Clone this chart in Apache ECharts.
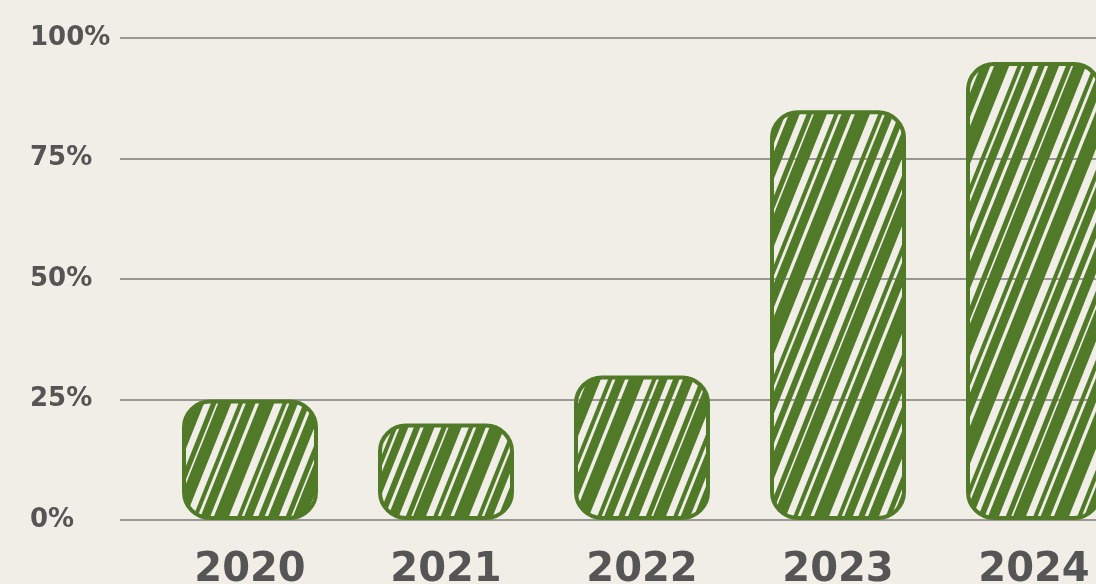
<!DOCTYPE html>
<html>
<head>
<meta charset="utf-8">
<script src="https://cdn.jsdelivr.net/npm/echarts@6/dist/echarts.min.js"></script>
<style>
html,body{margin:0;padding:0;background:#f1eee7;}
#c{width:1096px;height:584px;}
</style>
</head>
<body>
<div id="c"></div>
<script>
const categories = ['2020', '2021', '2022', '2023', '2024'];
const values = [25, 20, 30, 85, 95];
const yTicks = [0, 25, 50, 75, 100];

const GREEN = '#507a28';

function makeHatch() {
  const W = 120, H = 300;
  const cv = document.createElement('canvas');
  cv.width = W; cv.height = H;
  const ctx = cv.getContext('2d');
  ctx.strokeStyle = GREEN;
  ctx.lineCap = 'butt';
  const strokes = [[0, 10], [15, 5], [26, 12], [42, 4], [52, 9], [68, 14], [86, 4], [95, 8], [108, 6]];
  for (let rep = -1; rep <= 1; rep++) {
    for (const [off, w] of strokes) {
      const x0 = off + rep * W;
      ctx.lineWidth = w;
      ctx.beginPath();
      ctx.moveTo(x0 - W * 0.1, H * 1.1);
      ctx.lineTo(x0 + W * 1.1, -H * 0.1);
      ctx.stroke();
    }
  }
  return cv;
}

const FONT = '"DejaVu Sans", Lato, sans-serif';
const chart = echarts.init(document.getElementById('c'), null, {renderer: 'canvas'});
const option = {
  backgroundColor: '#f1eee7',
  animation: false,
  grid: [
    {left: 120, right: 0, top: 38, bottom: 64, outerBoundsMode: 'none', containLabel: false},
    {left: 152, width: 980, top: 38, bottom: 64, outerBoundsMode: 'none', containLabel: false}
  ],
  xAxis: [
    {gridIndex: 0, type: 'category', data: categories, show: false},
    {
      gridIndex: 1, type: 'category', data: categories,
      axisLine: {show: false}, axisTick: {show: false},
      axisLabel: {
        color: '#555555', fontSize: 40, fontWeight: 'bold',
        fontFamily: FONT, margin: 31
      }
    }
  ],
  yAxis: [
    {
      gridIndex: 0, type: 'value', min: 0, max: 100, interval: 25,
      axisLine: {show: false}, axisTick: {show: false},
      axisLabel: {
        formatter: v => yTicks.includes(v) ? v + '%' : '',
        align: 'left', margin: 90, color: '#555555', fontSize: 26, fontWeight: 'bold',
        fontFamily: FONT
      },
      splitLine: {lineStyle: {color: '#9a9893', width: 2}}
    },
    {gridIndex: 1, type: 'value', min: 0, max: 100, show: false}
  ],
  series: [{
    type: 'bar',
    xAxisIndex: 1, yAxisIndex: 1,
    data: values,
    barWidth: 136,
    itemStyle: {
      color: {image: makeHatch(), repeat: 'repeat'},
      borderColor: GREEN,
      borderWidth: 4,
      borderRadius: 26
    }
  }]
};
chart.setOption(option);
</script>
</body>
</html>
